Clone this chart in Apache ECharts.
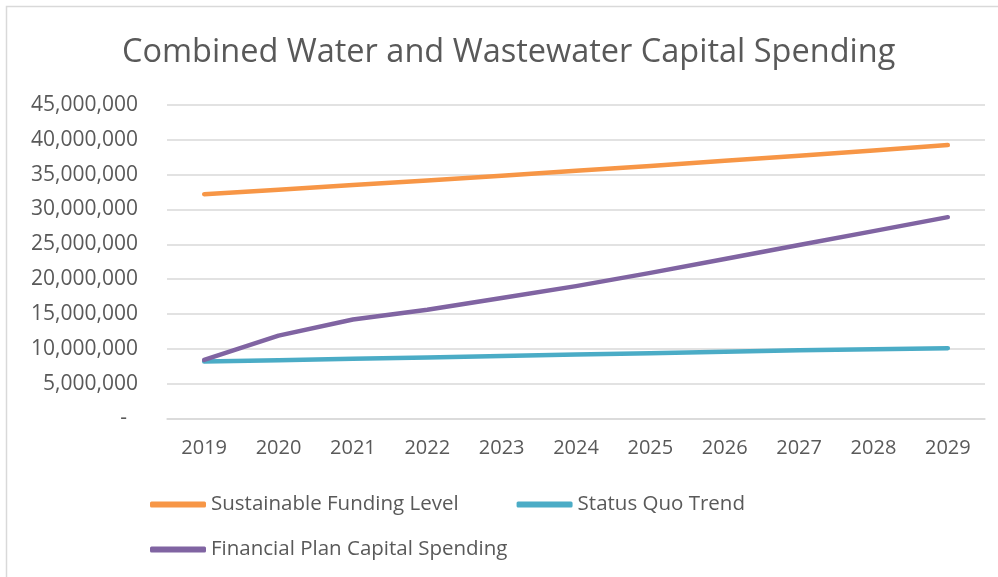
<!DOCTYPE html>
<html>
<head>
<meta charset="utf-8">
<script src="https://cdn.jsdelivr.net/npm/echarts@6/dist/echarts.min.js"></script>
<style>
  html, body { margin: 0; padding: 0; background: #fff; }
  #chart { width: 998px; height: 577px; }
</style>
</head>
<body>
<div id="chart"></div>
<script>
// values
const years = ['2019', '2020', '2021', '2022', '2023', '2024', '2025', '2026', '2027', '2028', '2029']
const sustainable = [32200000, 32850000, 33500000, 34170000, 34850000, 35550000, 36260000, 36990000, 37730000, 38480000, 39250000]
const statusQuo = [8170000, 8370000, 8560000, 8760000, 8960000, 9170000, 9370000, 9580000, 9780000, 9950000, 10100000]
const financialPlan = [8400000, 11900000, 14200000, 15600000, 17300000, 19000000, 20900000, 22900000, 24900000, 26900000, 28900000]

const textColor = '#595959'
const gridColor = '#d9d9d9'
const font = 'Open Sans'

const chart = echarts.init(document.getElementById('chart'))

chart.setOption({
  animation: false,
  title: {
    text: 'Combined Water and Wastewater Capital Spending',
    left: 117,
    top: 31,
    textStyle: {
      fontFamily: font,
      fontWeight: 'normal',
      fontSize: 32.5,
      color: textColor
    }
  },
  graphic: [{
    type: 'rect',
    shape: { x: 6.5, y: 6.5, width: 1100, height: 700 },
    style: { fill: 'none', stroke: gridColor, lineWidth: 1.5 }
  }],
  grid: {
    left: 167,
    right: 13,
    top: 105,
    bottom: 158.5
  },
  legend: [{
    data: ['Sustainable Funding Level', 'Status Quo Trend'],
    left: 150,
    top: 494,
    padding: 0,
    icon: 'roundRect',
    itemWidth: 56,
    itemHeight: 6,
    itemGap: 58,
    textStyle: { fontFamily: font, fontSize: 20.5, color: textColor }
  }, {
    data: ['Financial Plan Capital Spending'],
    left: 150,
    top: 539,
    padding: 0,
    icon: 'roundRect',
    itemWidth: 56,
    itemHeight: 6,
    textStyle: { fontFamily: font, fontSize: 20.5, color: textColor }
  }],
  xAxis: {
    type: 'category',
    data: years,
    boundaryGap: true,
    axisLine: { lineStyle: { color: gridColor, width: 1.5 } },
    axisTick: { show: false },
    axisLabel: {
      fontFamily: font,
      fontSize: 20,
      color: textColor,
      margin: 20
    }
  },
  yAxis: {
    type: 'value',
    min: 0,
    max: 45000000,
    interval: 5000000,
    axisLine: { show: false },
    axisTick: { show: false },
    splitLine: { lineStyle: { color: gridColor, width: 1.5 } },
    axisLabel: {
      fontFamily: font,
      fontSize: 21,
      color: textColor,
      margin: 29,
      formatter: function (v) {
        if (v === 0) return '-  '
        return v.toLocaleString('en-US')
      }
    }
  },
  series: [{
    name: 'Sustainable Funding Level',
    type: 'line',
    data: sustainable,
    showSymbol: false,
    color: '#f79646',
    lineStyle: { width: 4.5, cap: 'round', join: 'round' }
  }, {
    name: 'Status Quo Trend',
    type: 'line',
    data: statusQuo,
    showSymbol: false,
    color: '#4bacc6',
    lineStyle: { width: 4.5, cap: 'round', join: 'round' }
  }, {
    name: 'Financial Plan Capital Spending',
    type: 'line',
    data: financialPlan,
    showSymbol: false,
    color: '#8064a2',
    lineStyle: { width: 4.5, cap: 'round', join: 'round' }
  }]
})
</script>
</body>
</html>
